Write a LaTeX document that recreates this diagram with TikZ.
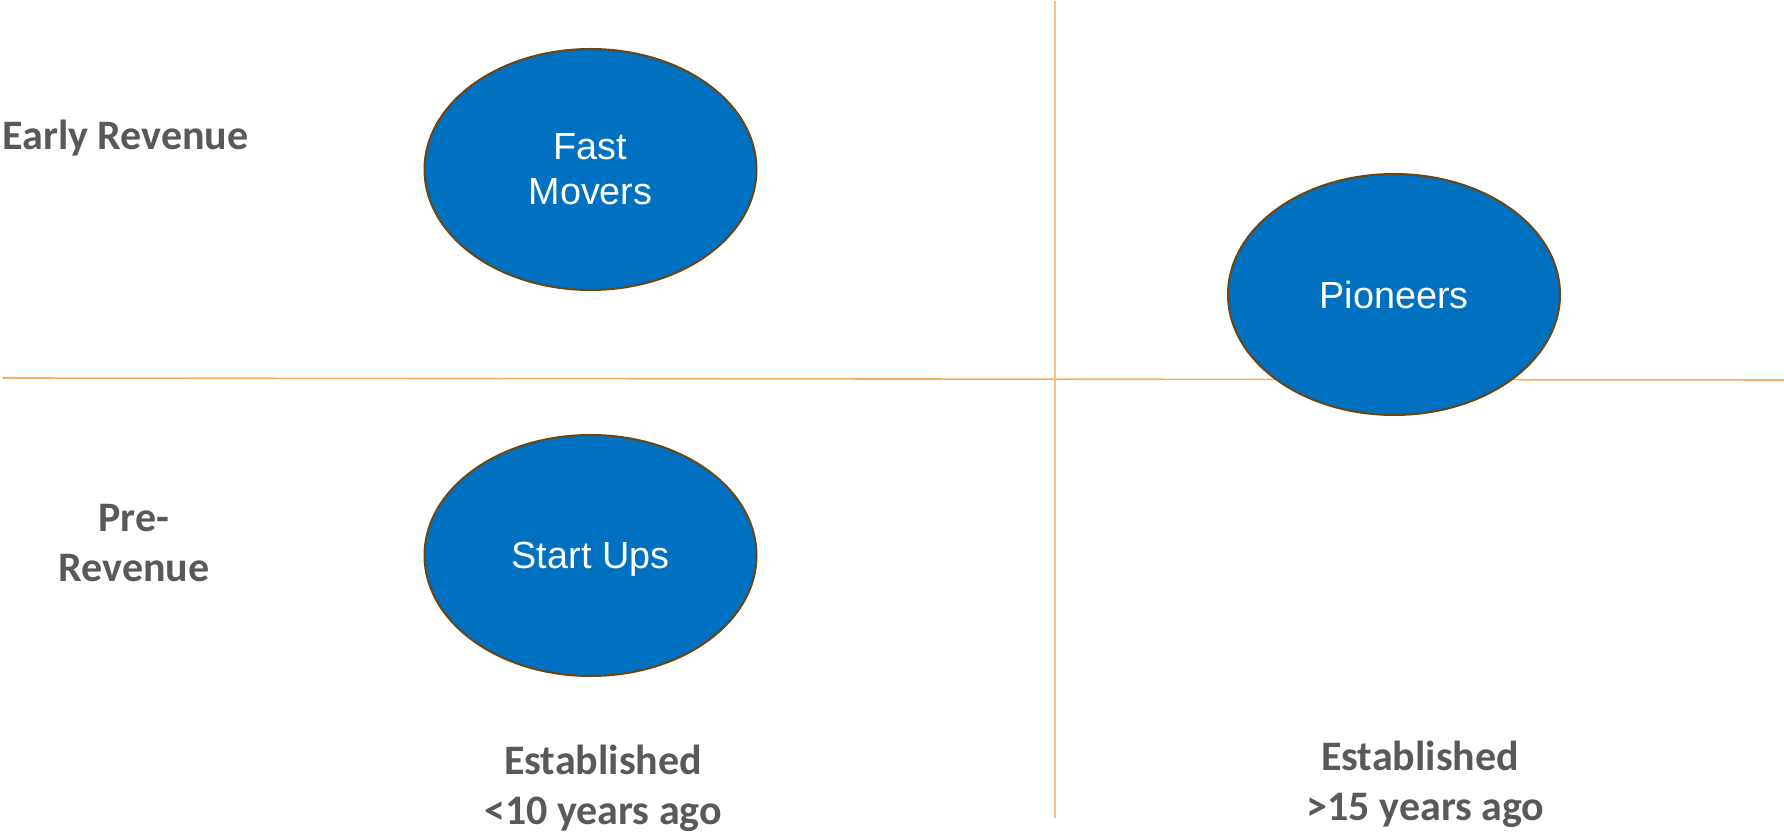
\documentclass[tikz,border=0pt]{standalone}
\usepackage{fontspec}
\setmainfont{Liberation Sans}
\newfontfamily\lblfont{Carlito}
\usetikzlibrary{shapes.geometric}
\definecolor{blobblue}{HTML}{0070C0}
\definecolor{blobedge}{HTML}{6B4512}
\definecolor{axisH}{HTML}{F7AE5A}
\definecolor{axisV}{HTML}{FCC07E}
\definecolor{lblgray}{HTML}{595959}
\begin{document}
\begin{tikzpicture}[x=0.5pt,y=-0.5pt,
  blob/.style={ellipse, draw=blobedge, line width=1pt, fill=blobblue,
    minimum width=166pt, minimum height=120.5pt, inner sep=0pt,
    text=white, align=center, font=\fontsize{18.9}{22.5}\selectfont},
  axislbl/.style={text=lblgray, align=center, inner sep=0pt,
    font=\lblfont\bfseries\fontsize{21}{25}\selectfont}]
\useasboundingbox (0,0) rectangle (1784,833);
% axes
\coordinate (hl) at (3,378);
\coordinate (hr) at (1784,380);
\coordinate (vt) at (1055,1);
\coordinate (vb) at (1055,818);
\draw[axisH, line width=0.8pt] (hl) -- (hr);
\draw[axisV, line width=0.8pt] (vt) -- (vb);
% blobs
\node[blob] (fast) at (590.5,169.5) {Fast\\Movers};
\node[blob] (pion) at (1394,294.5) {Pioneers};
\node[blob, text depth=0pt] (start) at (590.5,555.5) {Start Ups};
% labels
\node[axislbl, anchor=base west] (early) at (2,150) {Early Revenue};
\node[axislbl, anchor=base] (pre) at (134,582) {Pre-\\Revenue};
\node[axislbl, anchor=base] (estA) at (603,825) {Established\\<10 years ago};
\node[axislbl, anchor=base] (estB) at (1420,820) {Established\\\phantom{.}>15 years ago};
\end{tikzpicture}
\end{document}
